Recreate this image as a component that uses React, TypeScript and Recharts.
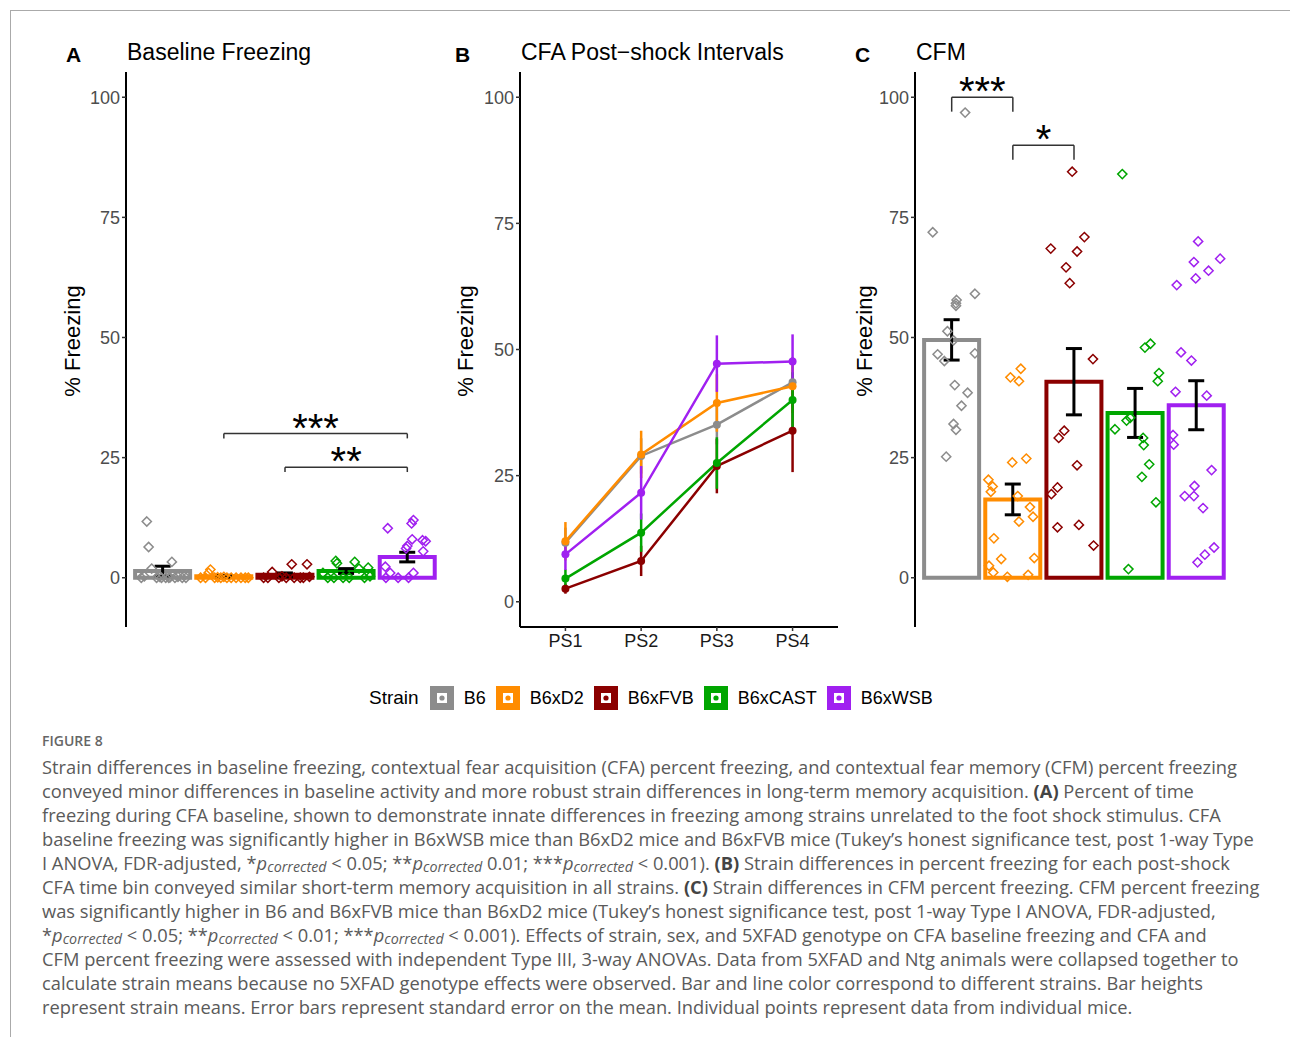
import React from "react";
import {
  Bar,
  Cell,
  ComposedChart,
  ErrorBar,
  Line,
  LineChart,
  ReferenceLine,
  Scatter,
  XAxis,
  YAxis,
} from "recharts";

const FONT = "'Liberation Sans', Arial, sans-serif";

const strains = ["B6", "B6xD2", "B6xFVB", "B6xCAST", "B6xWSB"];
const strainColors = ["#8c8c8c", "#ff8c00", "#8b0000", "#00a600", "#a020f0"];
const yTicks = [0, 25, 50, 75, 100];

// panel A: baseline freezing
const baselineMean = [1.4, 0.3, 0.6, 1.4, 4.3];
const baselineSE = [1.0, 0.2, 0.4, 0.5, 1.0];
// [jitter offset, value] per mouse
const baselineB6 = [
  [-0.26, 11.7], [-0.23, 6.4], [0.15, 3.3], [-0.18, 1.9], [-0.35, 0], [-0.3, 0.3],
  [-0.1, 0], [-0.05, 0.2], [0.05, 0], [0.1, 0], [0.2, 0], [0.25, 0.2], [0.32, 0], [0.38, 0],
  [-0.02, 0], [0.12, 0.1],
];
const baselineD2 = [
  [-0.22, 1.7], [-0.25, 1.0], [-0.38, 0], [-0.15, 0], [-0.05, 0], [0.05, 0], [0.12, 0],
  [0.2, 0], [0.28, 0], [0.35, 0], [-0.3, 0], [0.4, 0], [0.0, 0.2], [-0.1, 0.1],
];
const baselineFVB = [
  [0.11, 2.8], [0.36, 2.8], [-0.21, 1.2], [-0.35, 0], [-0.1, 0], [-0.05, 0.3], [0.02, 0],
  [0.15, 0], [0.25, 0], [0.3, 0], [0.4, 0.2], [-0.28, 0],
];
const baselineCAST = [
  [-0.17, 3.5], [-0.15, 3.0], [0.14, 3.3], [0.21, 1.9], [0.36, 2.1], [-0.38, 1.0],
  [-0.3, 0], [-0.2, 0], [-0.05, 0], [0.05, 0], [0.3, 0], [0.39, 0.3],
];
const baselineWSB = [
  [-0.32, 10.3], [0.1, 12.0], [0.07, 11.3], [0.08, 8.0], [0.25, 7.8], [0.3, 7.6],
  [0.0, 6.6], [-0.02, 6.1], [0.26, 5.5], [-0.36, 2.3], [-0.28, 1.0], [0.1, 1.0],
  [-0.15, 0], [0.02, 0], [-0.35, 0],
];

// panel B: post-shock intervals
const intervals = ["PS1", "PS2", "PS3", "PS4"];
const psMean = [
  [11.7, 28.9, 35.1, 43.5],
  [12.0, 29.2, 39.4, 42.7],
  [2.6, 8.1, 26.9, 33.9],
  [4.6, 13.7, 27.5, 40.0],
  [9.4, 21.6, 47.2, 47.6],
];
const psSE = [
  [3.0, 3.5, 3.9, 5.0],
  [3.8, 4.7, 5.7, 5.3],
  [1.0, 3.0, 5.4, 8.2],
  [1.8, 3.8, 5.1, 5.5],
  [3.1, 5.3, 5.6, 5.4],
];

// panel C: CFM
const cfmMean = [49.5, 16.3, 40.8, 34.3, 35.9];
const cfmSE = [4.2, 3.2, 6.9, 5.1, 5.1];
const cfmB6 = [
  [0.22, 96.8], [-0.31, 71.9], [0.38, 59.1], [0.08, 57.8], [0.07, 57.1], [0.07, 56.6],
  [-0.07, 51.3], [0.03, 49.4], [-0.23, 46.5], [-0.12, 45.1], [0.38, 46.7], [0.05, 40.1],
  [0.26, 38.5], [0.16, 35.8], [0.03, 32.0], [0.07, 30.8], [-0.09, 25.2],
];
const cfmD2 = [
  [0.13, 43.5], [-0.04, 41.7], [0.1, 40.9], [-0.01, 24.0], [0.22, 24.8], [-0.4, 20.4],
  [-0.33, 19.0], [-0.36, 17.9], [0.08, 17.0], [0.28, 14.7], [0.33, 12.7], [0.1, 11.7],
  [-0.31, 8.2], [-0.19, 3.9], [0.35, 4.1], [-0.39, 2.5], [-0.32, 1.1], [-0.09, 0.2], [0.25, 0.6],
];
const cfmFVB = [
  [-0.03, 84.5], [0.17, 70.9], [-0.38, 68.5], [0.05, 67.9], [-0.13, 64.6], [-0.07, 61.3],
  [0.31, 45.5], [-0.16, 30.6], [-0.25, 29.1], [0.05, 23.4], [-0.27, 18.8], [-0.37, 17.4],
  [-0.27, 10.5], [0.08, 11.0], [0.32, 6.7],
];
const cfmCAST = [
  [-0.21, 84.0], [0.25, 48.7], [0.16, 47.9], [0.39, 42.6], [0.37, 40.9], [-0.33, 30.9],
  [-0.14, 32.7], [-0.08, 33.3], [0.13, 29.1], [0.14, 27.6], [0.23, 23.6], [0.11, 21.0],
  [0.34, 15.7], [-0.11, 1.8],
];
const cfmWSB = [
  [0.03, 70.0], [0.39, 66.4], [-0.04, 65.7], [0.2, 63.9], [-0.01, 62.3], [-0.32, 60.9],
  [-0.25, 46.9], [-0.08, 45.2], [-0.34, 38.7], [0.17, 37.9], [-0.38, 29.7], [-0.37, 27.7],
  [0.25, 22.4], [-0.03, 19.1], [-0.19, 17.0], [-0.04, 17.0], [0.11, 14.5], [0.29, 6.3],
  [0.14, 4.8], [0.02, 3.2],
];

// significance brackets: [from, to, y, drop, label]
const baselineBrackets = [
  [2, 5, 30.0, 1.0, "***"],
  [3, 5, 23.0, 1.0, "**"],
];
const cfmBrackets = [
  [1, 2, 100.0, 3.0, "***"],
  [2, 3, 90.0, 3.0, "*"],
];

const tickStyle = { fill: "#4d4d4d", fontSize: 18, fontFamily: FONT };

const diamond = (color: string) => (props: any) => {
  const { cx, cy } = props;
  const r = 4.6;
  return (
    <path
      d={`M${cx},${cy - r}L${cx + r},${cy}L${cx},${cy + r}L${cx - r},${cy}Z`}
      fill="none"
      stroke={color}
      strokeWidth={1.5}
    />
  );
};

function BarPanel({
  left,
  means,
  ses,
  points,
  brackets,
}: {
  left: number;
  means: number[];
  ses: number[];
  points: number[][][];
  brackets: any[][];
}) {
  const data = strains.map((s, i) => ({ x: i + 1, strain: s, mean: means[i], se: ses[i] }));
  return (
    <div style={{ position: "absolute", left: 0, top: 0 }}>
      <ComposedChart
        width={460}
        height={640}
        data={data}
        margin={{ top: 72, right: 460 - (left + 40 + 318), bottom: 13, left: left }}
      >
        <XAxis
          type="number"
          dataKey="x"
          domain={[0.4, 5.6]}
          ticks={[1, 2, 3, 4, 5]}
          allowDataOverflow
          height={0}
          tick={false}
          tickLine={false}
          axisLine={{ stroke: "#000", strokeWidth: 2 }}
        />
        <XAxis
          xAxisId="bars"
          type="number"
          dataKey="x"
          domain={[0.4, 5.6]}
          ticks={[1, 2, 3, 4, 5]}
          allowDataOverflow
          hide
        />
        <YAxis
          type="number"
          domain={[-10.25, 105.25]}
          ticks={yTicks}
          allowDataOverflow
          width={40}
          tick={tickStyle}
          tickSize={4}
          tickMargin={2}
          tickLine={{ stroke: "#333", strokeWidth: 1.5 }}
          axisLine={{ stroke: "#000", strokeWidth: 2 }}
        />
        <Bar xAxisId="bars" dataKey="mean" barSize={55} fill="none" strokeWidth={4} isAnimationActive={false}>
          {data.map((d, i) => (
            <Cell key={d.strain} stroke={strainColors[i]} fill="none" />
          ))}
          <ErrorBar dataKey="se" width={8} stroke="#000" strokeWidth={3} direction="y" />
        </Bar>
        {strains.map((s, i) => (
          <Scatter
            key={s}
            data={points[i].map(([o, v]) => ({ x: i + 1 + o, y: v }))}
            dataKey="y"
            shape={diamond(strainColors[i])}
            isAnimationActive={false}
          />
        ))}
        {brackets.map(([from, to, y, drop, label]) => (
          <React.Fragment key={`${from}-${to}`}>
            <ReferenceLine
              segment={[{ x: from, y }, { x: to, y }]}
              stroke="#333"
              strokeWidth={1.5}
              ifOverflow="visible"
              label={{ value: label, position: "top", offset: -8, fontSize: 40, fill: "#000", fontFamily: FONT }}
            />
            <ReferenceLine
              segment={[{ x: from, y }, { x: from, y: y - drop }]}
              stroke="#333"
              strokeWidth={1.5}
              ifOverflow="visible"
            />
            <ReferenceLine
              segment={[{ x: to, y }, { x: to, y: y - drop }]}
              stroke="#333"
              strokeWidth={1.5}
              ifOverflow="visible"
            />
          </React.Fragment>
        ))}
      </ComposedChart>
    </div>
  );
}

function LinePanel() {
  const data = intervals.map((label, i) => {
    const row: any = { x: i + 1, label };
    strains.forEach((s, k) => {
      row[s] = psMean[k][i];
      row[`${s}_se`] = psSE[k][i];
    });
    return row;
  });
  return (
    <div style={{ position: "absolute", left: 400, top: 0 }}>
      <LineChart width={460} height={670} data={data} margin={{ top: 72, right: 22, bottom: 13, left: 80 }}>
        <XAxis
          type="number"
          dataKey="x"
          domain={[0.4, 4.6]}
          ticks={[1, 2, 3, 4]}
          allowDataOverflow
          height={30}
          tickFormatter={(v) => intervals[v - 1]}
          tick={{ fill: "#1a1a1a", fontSize: 18, fontFamily: FONT }}
          tickSize={4}
          tickMargin={3}
          tickLine={{ stroke: "#333", strokeWidth: 1.5 }}
          axisLine={{ stroke: "#000", strokeWidth: 2 }}
        />
        <YAxis
          type="number"
          domain={[-5, 105]}
          ticks={yTicks}
          allowDataOverflow
          width={40}
          tick={tickStyle}
          tickSize={4}
          tickMargin={2}
          tickLine={{ stroke: "#333", strokeWidth: 1.5 }}
          axisLine={{ stroke: "#000", strokeWidth: 2 }}
        />
        {strains.map((s, i) => (
          <Line
            key={s}
            dataKey={s}
            stroke={strainColors[i]}
            strokeWidth={2.5}
            dot={{ r: 4, fill: strainColors[i], stroke: strainColors[i], strokeWidth: 0 }}
            activeDot={false}
            isAnimationActive={false}
          >
            <ErrorBar dataKey={`${s}_se`} width={0} stroke={strainColors[i]} strokeWidth={2.5} direction="y" />
          </Line>
        ))}
      </LineChart>
    </div>
  );
}

const abs = (left: number, top: number, extra: React.CSSProperties = {}): React.CSSProperties => ({
  position: "absolute",
  left,
  top,
  fontFamily: FONT,
  lineHeight: 1,
  whiteSpace: "nowrap",
  ...extra,
});

function PanelText({ letter, letterX, title, titleX, labelX }: any) {
  return (
    <>
      <div style={abs(letterX, 54, { fontSize: 21, fontWeight: "bold", transform: "translateY(-50%)" })}>
        {letter}
      </div>
      <div style={abs(titleX, 52, { fontSize: 23, transform: "translateY(-50%)" })}>{title}</div>
      <div style={abs(labelX, 341, { fontSize: 22, transform: "translate(-50%, -50%) rotate(-90deg)" })}>
        % Freezing
      </div>
    </>
  );
}

function LegendKey({ color }: { color: string }) {
  return (
    <svg width={24} height={24} style={{ display: "block" }}>
      <rect x={0} y={0} width={24} height={24} fill={color} />
      <rect x={7} y={7} width={10} height={10} fill="#fff" />
      <circle cx={12} cy={12} r={2.6} fill={color} />
    </svg>
  );
}

const P = () => (
  <>
    <i>p</i>
    <span
      style={{
        display: "inline-block",
        fontSize: "0.78em",
        fontStyle: "italic",
        lineHeight: "12px",
        height: 12,
        verticalAlign: "-2px",
      }}
    >
      corrected
    </span>
  </>
);
const B = ({ children }: any) => <b style={{ color: "#444", fontWeight: 700 }}>{children}</b>;

const captionLines: React.ReactNode[] = [
  "Strain differences in baseline freezing, contextual fear acquisition (CFA) percent freezing, and contextual fear memory (CFM) percent freezing",
  <>conveyed minor differences in baseline activity and more robust strain differences in long-term memory acquisition. <B>(A)</B> Percent of time</>,
  "freezing during CFA baseline, shown to demonstrate innate differences in freezing among strains unrelated to the foot shock stimulus. CFA",
  "baseline freezing was significantly higher in B6xWSB mice than B6xD2 mice and B6xFVB mice (Tukey\u2019s honest significance test, post 1-way Type",
  <>I ANOVA, FDR-adjusted, *<P /> &lt; 0.05; **<P /> 0.01; ***<P /> &lt; 0.001). <B>(B)</B> Strain differences in percent freezing for each post-shock</>,
  <>CFA time bin conveyed similar short-term memory acquisition in all strains. <B>(C)</B> Strain differences in CFM percent freezing. CFM percent freezing</>,
  "was significantly higher in B6 and B6xFVB mice than B6xD2 mice (Tukey\u2019s honest significance test, post 1-way Type I ANOVA, FDR-adjusted,",
  <>*<P /> &lt; 0.05; **<P /> &lt; 0.01; ***<P /> &lt; 0.001). Effects of strain, sex, and 5XFAD genotype on CFA baseline freezing and CFA and</>,
  "CFM percent freezing were assessed with independent Type III, 3-way ANOVAs. Data from 5XFAD and Ntg animals were collapsed together to",
  "calculate strain means because no 5XFAD genotype effects were observed. Bar and line color correspond to different strains. Bar heights",
  "represent strain means. Error bars represent standard error on the mean. Individual points represent data from individual mice.",
];

export default function App() {
  return (
    <div
      style={{
        position: "absolute",
        left: 0,
        top: 0,
        width: 1290,
        height: 1037,
        background: "#fff",
        overflow: "hidden",
      }}
    >
      <div
        style={{
          position: "absolute",
          left: 10,
          top: 10,
          width: 1300,
          height: 1100,
          borderTop: "1px solid #aaa",
          borderLeft: "1px solid #aaa",
        }}
      />

      <BarPanel
        left={86}
        means={baselineMean}
        ses={baselineSE}
        points={[baselineB6, baselineD2, baselineFVB, baselineCAST, baselineWSB]}
        brackets={baselineBrackets}
      />
      <LinePanel />
      <div style={{ position: "absolute", left: 800, top: 0 }}>
        <div style={{ position: "relative" }}>
          <BarPanel
            left={75}
            means={cfmMean}
            ses={cfmSE}
            points={[cfmB6, cfmD2, cfmFVB, cfmCAST, cfmWSB]}
            brackets={cfmBrackets}
          />
        </div>
      </div>

      <PanelText letter="A" letterX={66} title="Baseline Freezing" titleX={127} labelX={73} />
      <PanelText letter="B" letterX={455} title={"CFA Post\u2212shock Intervals"} titleX={521} labelX={466} />
      <PanelText letter="C" letterX={855} title="CFM" titleX={916} labelX={865} />

      <div
        style={{
          position: "absolute",
          left: 369,
          top: 686,
          height: 24,
          display: "flex",
          alignItems: "center",
          fontFamily: FONT,
          fontSize: 18,
          color: "#000",
          whiteSpace: "nowrap",
        }}
      >
        <span style={{ fontSize: 19, marginRight: 11 }}>Strain</span>
        {strains.map((s, i) => (
          <React.Fragment key={s}>
            <LegendKey color={strainColors[i]} />
            <span style={{ marginLeft: 10, marginRight: 10 }}>{s}</span>
          </React.Fragment>
        ))}
      </div>

      <div
        style={{
          position: "absolute",
          left: 42,
          top: 732,
          fontFamily: "'Open Sans', 'Noto Sans', sans-serif",
          color: "#5a5a5a",
          whiteSpace: "nowrap",
        }}
      >
        <div style={{ fontSize: 14, fontWeight: 600, lineHeight: "18px", color: "#666", marginBottom: 5 }}>
          FIGURE 8
        </div>
        {captionLines.map((line, i) => (
          <div key={i} style={{ fontSize: 18.3, lineHeight: "24px", height: 24 }}>
            {line}
          </div>
        ))}
      </div>
    </div>
  );
}
